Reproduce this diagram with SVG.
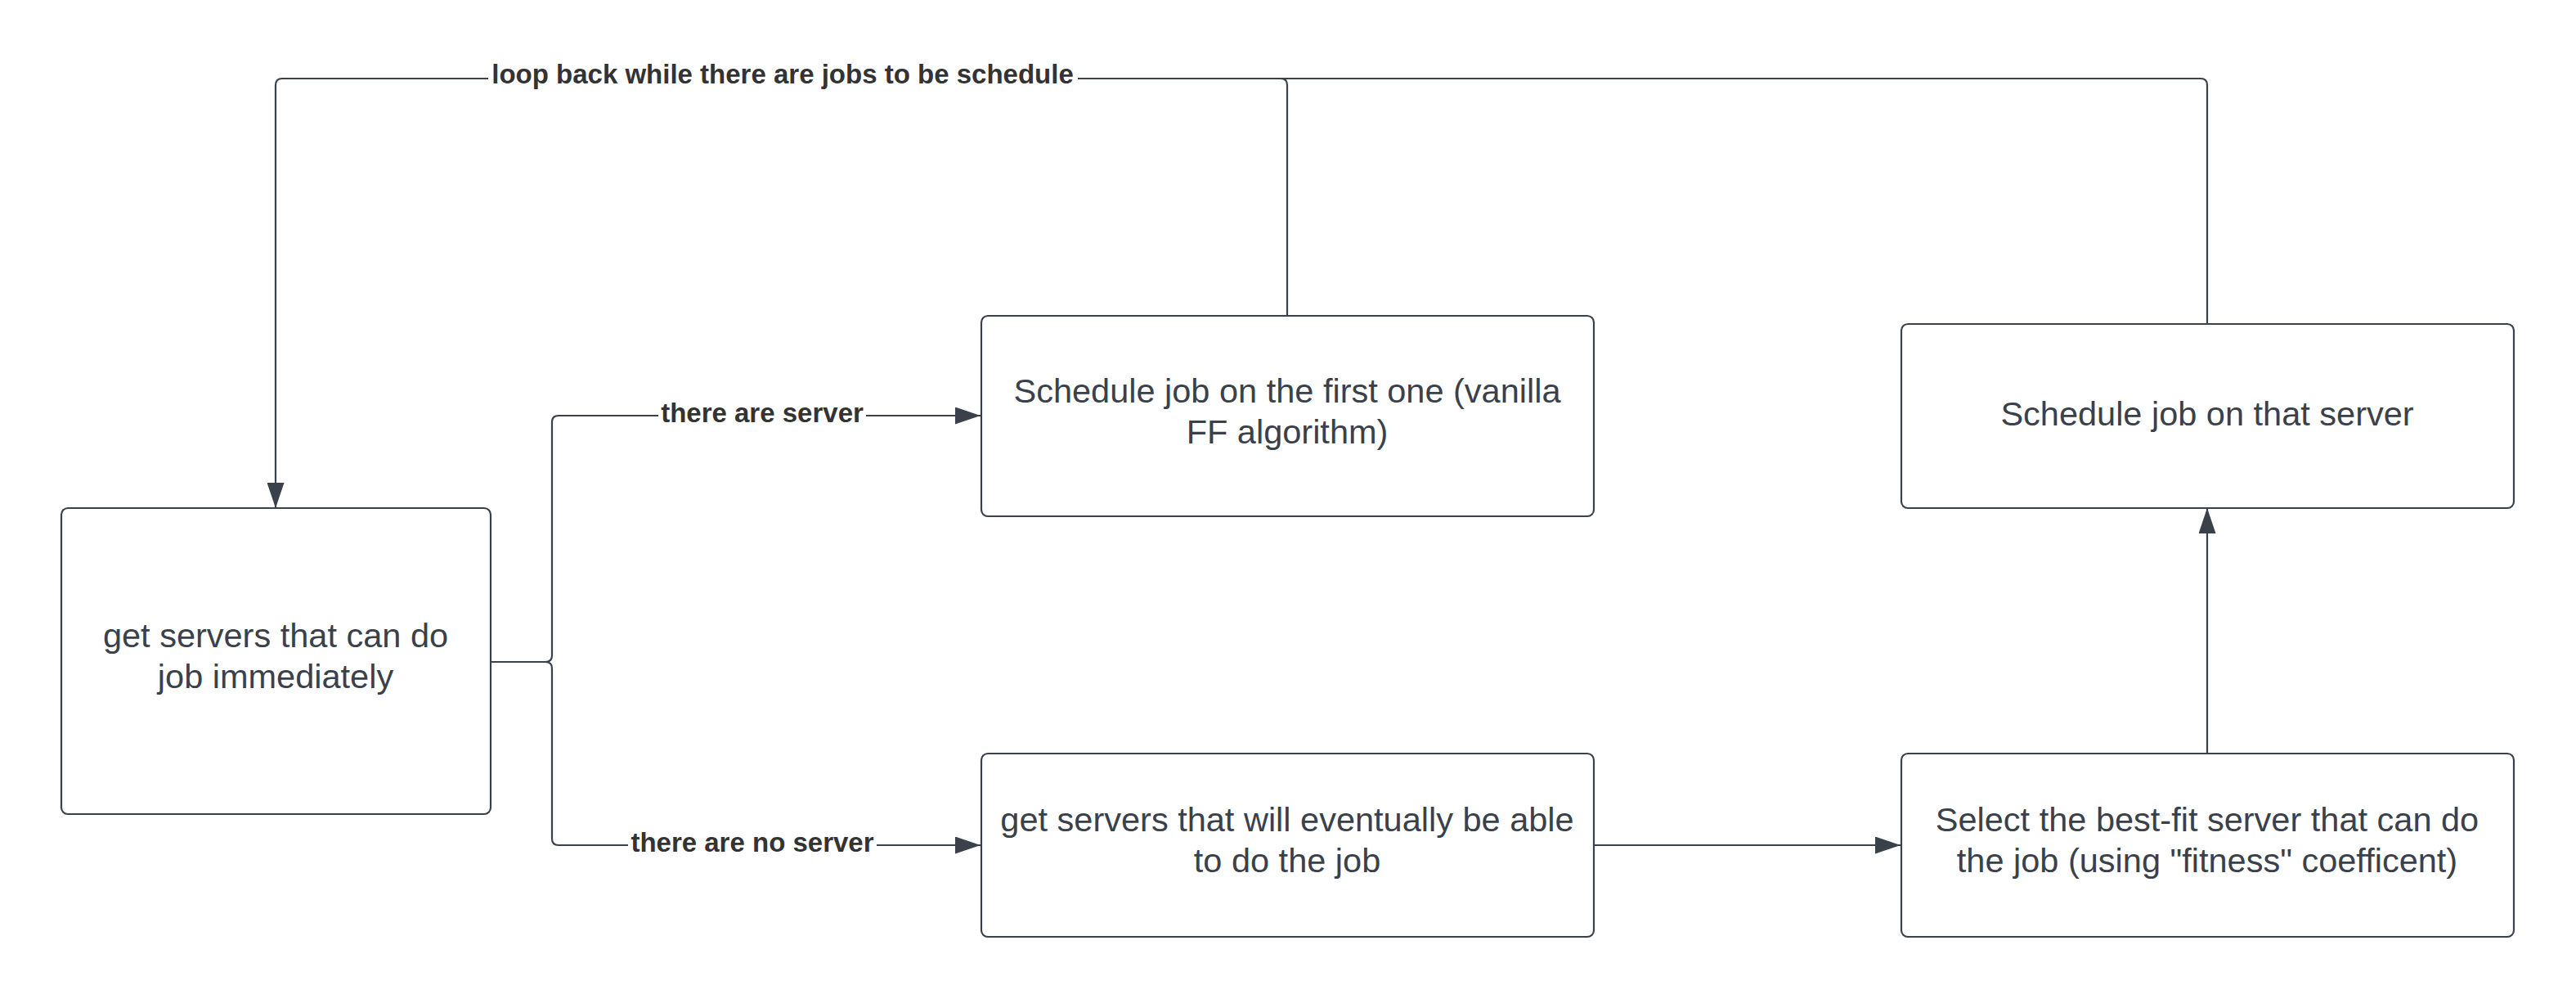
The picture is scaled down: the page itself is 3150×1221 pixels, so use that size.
<svg xmlns="http://www.w3.org/2000/svg" width="3150" height="1221" viewBox="0 0 3150 1221">
<style>
.box{fill:#ffffff;stroke:#3a414a;stroke-width:2.2}
.node{font-family:"Liberation Sans",Arial,sans-serif;font-size:41.5px;fill:#3a414a;text-anchor:middle}
.edge{fill:none;stroke:#3a414a;stroke-width:2.2}
.lbl{font-family:"Liberation Sans",Arial,sans-serif;font-size:33px;font-weight:bold;fill:#333333;text-anchor:middle}
</style>
<defs>
<marker id="arr" markerUnits="userSpaceOnUse" markerWidth="31" markerHeight="21" refX="31" refY="10.5" orient="auto">
<path d="M0,0 L31,10.5 L0,21 z" fill="#3a414a"/>
</marker>
</defs>
<rect width="3150" height="1221" fill="#ffffff"/>
<g id="connectors">
<path class="edge" d="M2699,396 V104 Q2699,96 2691,96 H1318"/>
<path class="edge" d="M597,96 H345 Q337,96 337,104 V621" marker-end="url(#arr)"/>
<path class="edge" d="M1574,386 V104 Q1574,96 1566,96"/>
<path class="edge" d="M600,809 H667 Q675,809 675,801 V516 Q675,508 683,508 H805"/>
<path class="edge" d="M1059,508 H1199" marker-end="url(#arr)"/>
<path class="edge" d="M667,809 Q675,809 675,817 V1025 Q675,1033 683,1033 H768"/>
<path class="edge" d="M1072,1033 H1199" marker-end="url(#arr)"/>
<path class="edge" d="M1949,1033 H2324" marker-end="url(#arr)"/>
<path class="edge" d="M2699,920 V621" marker-end="url(#arr)"/>
<text class="lbl" x="957" y="102">loop back while there are jobs to be schedule</text>
<text class="lbl" x="932" y="516">there are server</text>
<text class="lbl" x="920" y="1041">there are no server</text>
</g>
<g id="n1">
<rect class="box" x="75" y="621" width="525" height="374" rx="8"/>
<text class="node" x="337" y="791">get servers that can do</text>
<text class="node" x="337" y="841">job immediately</text>
</g>
<g id="n2">
<rect class="box" x="1200" y="386" width="749" height="245" rx="8"/>
<text class="node" x="1574" y="492">Schedule job on the first one (vanilla</text>
<text class="node" x="1574" y="542">FF algorithm)</text>
</g>
<g id="n3">
<rect class="box" x="2325" y="396" width="749" height="225" rx="8"/>
<text class="node" x="2699" y="520">Schedule job on that server</text>
</g>
<g id="n4">
<rect class="box" x="1200" y="921" width="749" height="224" rx="8"/>
<text class="node" x="1574" y="1016">get servers that will eventually be able</text>
<text class="node" x="1574" y="1066">to do the job</text>
</g>
<g id="n5">
<rect class="box" x="2325" y="921" width="749" height="224" rx="8"/>
<text class="node" x="2699" y="1016">Select the best-fit server that can do</text>
<text class="node" x="2699" y="1066">the job (using "fitness" coefficent)</text>
</g>
</svg>
